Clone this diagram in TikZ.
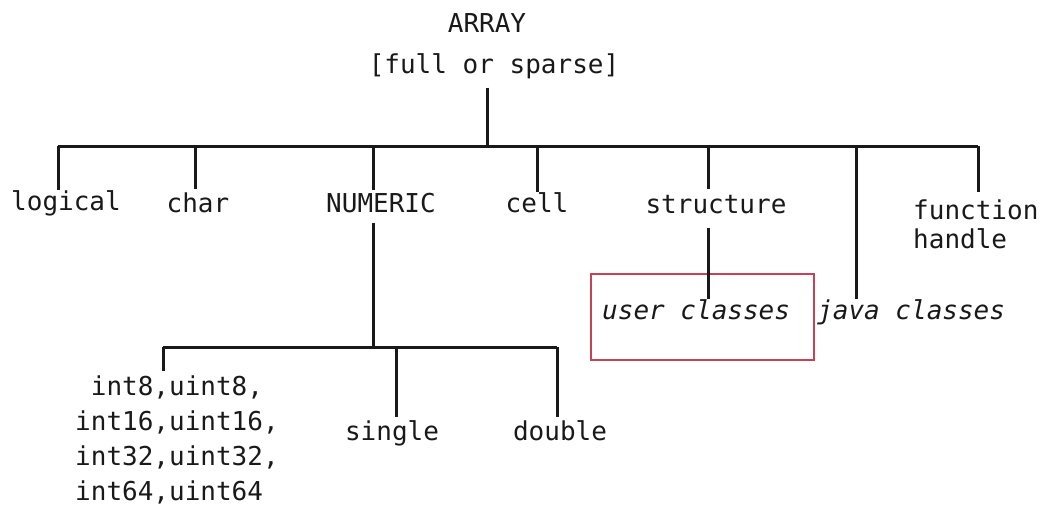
\documentclass[tikz,border=0pt]{standalone}
\usepackage{fontspec}
\setmainfont{DejaVu Sans Mono}
\definecolor{ink}{RGB}{25,25,25}
\definecolor{boxred}{RGB}{200,65,85}
\begin{document}
\begin{tikzpicture}[
		x=1pt, y=-1pt,
		txt/.style={inner sep=0pt, anchor=base, text=ink, font=\fontsize{26}{29}\selectfont},
		slanted/.style={txt, anchor=base west, font=\fontsize{26}{29}\selectfont\itshape},
		branch/.style={draw=ink, line width=3pt},
		userbox/.style={draw=boxred, line width=1.8pt, minimum width=223pt, minimum height=86pt, anchor=north west}
	]
	\useasboundingbox (0,0) rectangle (1049,509);
	\node[txt] (array) at (487,32) {ARRAY};
	\node[txt] (fos) at (494,73) {[full or sparse]};
	\node[txt] (logical) at (66,210) {logical};
	\node[txt] (char) at (198,212) {char};
	\node[txt] (numeric) at (381,212) {NUMERIC};
	\node[txt] (cell) at (537,212) {cell};
	\node[txt] (structure) at (716,213) {structure};
	\node[txt, anchor=north west, align=left] (fhandle) at (913,200) {function\\handle};
	\node[userbox] (ubox) at (590,273) {};
	\node[slanted] (userc) at (602,319) {user classes};
	\node[slanted] (javac) at (817,319) {java classes};
	\node[txt, anchor=north west, align=left, font=\fontsize{26}{35}\selectfont] (ints) at (75,376)
		{~int8,uint8,\\int16,uint16,\\int32,uint32,\\int64,uint64};
	\node[txt] (single) at (392,440) {single};
	\node[txt] (double) at (560,440) {double};

	\coordinate (t-log) at (58,146);
	\coordinate (t-chr) at (195,146);
	\coordinate (t-num) at (373,146);
	\coordinate (t-cel) at (537,146);
	\coordinate (t-str) at (708,146);
	\coordinate (t-jav) at (856,146);
	\coordinate (t-fun) at (978,146);
	\coordinate (t-int) at (163,347);
	\coordinate (t-sgl) at (396,347);
	\coordinate (t-dbl) at (557,347);

	\draw[branch, shorten <=9pt] (array |- fos.south) -- (array |- t-log);
	\draw[branch] (t-log) -- (t-fun);
	\draw[branch] (t-log) -- (t-log |- logical.north);
	\draw[branch, shorten >=3pt] (t-chr) -- (t-chr |- char.north);
	\draw[branch, shorten >=3pt] (t-num) -- (t-num |- numeric.north);
	\draw[branch] (t-cel) -- (t-cel |- cell.north);
	\draw[branch, shorten >=6pt] (t-str) -- (t-str |- structure.north);
	\draw[branch] (t-jav) -- (t-jav |- javac.north);
	\draw[branch, shorten >=8pt] (t-fun) -- (t-fun |- fhandle.north);
	\draw[branch, shorten <=14pt] (t-str |- structure.south) -- (t-str |- userc.north);

	\draw[branch, shorten <=10pt] (t-num |- numeric.south) -- (t-num |- t-int);
	\draw[branch] (t-int) -- (t-dbl);
	\draw[branch, shorten >=5pt] (t-int) -- (t-int |- ints.north);
	\draw[branch, shorten >=3pt] (t-sgl) -- (t-sgl |- single.north);
	\draw[branch, shorten >=3pt] (t-dbl) -- (t-dbl |- double.north);
\end{tikzpicture}
\end{document}
